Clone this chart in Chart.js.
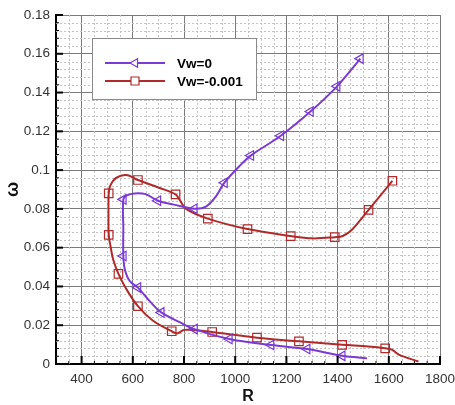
<!DOCTYPE html>
<html>
<head>
<meta charset="utf-8">
<script src="https://cdn.jsdelivr.net/npm/chart.js@4.4.1/dist/chart.umd.min.js"></script>
<style>
  html, body { margin: 0; padding: 0; background: #fff; }
</style>
</head>
<body>
<canvas id="chart" width="455" height="405"></canvas>
<script>
// Vw=0 curve (R, omega), top-right end first
const vw0R = [1489, 1398, 1294, 1178, 1061, 1016, 958, 925, 886, 840, 760, 698, 650, 607, 577, 563, 563, 563, 569, 588, 620, 666, 711, 783, 841, 977, 1140, 1281, 1418, 1515];
const vw0W = [0.1575, 0.1432, 0.1302, 0.1177, 0.1075, 0.1020, 0.0935, 0.0865, 0.0812, 0.0801, 0.0822, 0.0842, 0.0876, 0.0880, 0.0870, 0.0849, 0.0700, 0.0557, 0.0488, 0.0428, 0.0394, 0.0324, 0.0266, 0.0216, 0.0180, 0.0129, 0.0098, 0.0077, 0.0042, 0.0029];
const vw0Marks = [0, 1, 2, 3, 4, 6, 9, 11, 15, 17, 20, 22, 24, 25, 26, 27, 28];

// Vw=-0.001 curve
const vwmR = [1614, 1521, 1457, 1420, 1389, 1300, 1217, 1048, 893, 808, 782, 767, 705, 620, 575, 535, 512, 506, 505, 506, 513, 523, 544, 575, 620, 679, 752, 775, 800, 850, 910, 1085, 1249, 1418, 1520, 1586, 1612, 1641, 1716];
const vwmW = [0.0945, 0.0795, 0.0694, 0.0660, 0.0654, 0.0648, 0.0660, 0.0696, 0.0750, 0.0800, 0.0849, 0.0875, 0.0908, 0.0949, 0.0975, 0.0960, 0.0920, 0.0880, 0.0770, 0.0666, 0.0608, 0.0540, 0.0465, 0.0386, 0.0298, 0.0223, 0.0169, 0.0158, 0.0176, 0.0174, 0.0165, 0.0136, 0.0117, 0.0099, 0.0090, 0.0081, 0.0074, 0.0047, 0.0013];
const vwmMarks = [0, 1, 4, 6, 7, 8, 11, 13, 17, 19, 22, 24, 26, 30, 31, 32, 33, 35];

const xTicks = [400, 600, 800, 1000, 1200, 1400, 1600, 1800];
const yTicks = [0, 0.02, 0.04, 0.06, 0.08, 0.1, 0.12, 0.14, 0.16, 0.18];

const purple = "#7a3ad4";
const red = "#b02a2a";
const font = "'Liberation Sans', Arial, sans-serif";

function toPoints(xs, ys) {
  return xs.map((x, i) => ({ x: x, y: ys[i] }));
}

// dotted minor grid under the curves
const minorGrid = {
  id: "minorGrid",
  beforeDatasetsDraw(chart) {
    const { ctx, chartArea: a, scales: { x, y } } = chart;
    ctx.save();
    ctx.strokeStyle = "#c2c2c2";
    ctx.lineWidth = 1;
    ctx.setLineDash([2, 2]);
    ctx.beginPath();
    for (let v = 350; v < 1800; v += 50) {
      if (v % 200 === 0) continue;
      const px = Math.round(x.getPixelForValue(v)) + 0.5;
      ctx.moveTo(px, a.top);
      ctx.lineTo(px, a.bottom);
    }
    for (let i = 1; i < 45; i++) {
      if (i % 5 === 0) continue;
      const py = Math.round(y.getPixelForValue(i * 0.004)) + 0.5;
      ctx.moveTo(a.left, py);
      ctx.lineTo(a.right, py);
    }
    ctx.stroke();
    ctx.restore();
  },
};

// inward tick marks and the legend box
const frameAndLegend = {
  id: "frameAndLegend",
  afterDraw(chart) {
    const { ctx, chartArea: a, scales: { x, y } } = chart;
    ctx.save();
    ctx.strokeStyle = "#000";
    for (let v = 350; v <= 1800; v += 50) {
      const major = v % 200 === 0;
      const px = x.getPixelForValue(v);
      ctx.lineWidth = major ? 2 : 1;
      ctx.beginPath();
      ctx.moveTo(px, a.bottom);
      ctx.lineTo(px, a.bottom - (major ? 8 : 3));
      ctx.stroke();
    }
    for (let i = 1; i <= 45; i++) {
      const major = i % 5 === 0;
      const py = y.getPixelForValue(i * 0.004);
      ctx.lineWidth = major ? 2 : 1;
      ctx.beginPath();
      ctx.moveTo(a.left, py);
      ctx.lineTo(a.left + (major ? 7 : 3), py);
      ctx.stroke();
    }

    // legend
    ctx.setLineDash([]);
    ctx.fillStyle = "#fff";
    ctx.fillRect(92, 38, 165, 62);
    ctx.strokeStyle = "#8a8a8a";
    ctx.lineWidth = 1;
    ctx.strokeRect(92.5, 38.5, 164, 61);

    const rows = [
      { label: "Vw=0", color: purple, y: 63, mark: "tri" },
      { label: "Vw=-0.001", color: red, y: 81, mark: "sq" },
    ];
    rows.forEach((r) => {
      ctx.strokeStyle = r.color;
      ctx.lineWidth = 2;
      ctx.beginPath();
      ctx.moveTo(105, r.y);
      ctx.lineTo(165, r.y);
      ctx.stroke();
      ctx.lineWidth = 1.2;
      ctx.fillStyle = "#fff";
      ctx.beginPath();
      if (r.mark === "tri") {
        ctx.moveTo(130, r.y);
        ctx.lineTo(137.5, r.y - 4.3);
        ctx.lineTo(137.5, r.y + 4.3);
        ctx.closePath();
      } else {
        ctx.rect(131, r.y - 4, 8, 8);
      }
      ctx.fill();
      ctx.stroke();
      ctx.fillStyle = "#000";
      ctx.font = "bold 13.5px " + font;
      ctx.textBaseline = "middle";
      ctx.fillText(r.label, 177, r.y + 1);
    });
    ctx.restore();
  },
};

new Chart(document.getElementById("chart"), {
  type: "line",
  data: {
    datasets: [
      {
        label: "Vw=0",
        data: toPoints(vw0R, vw0W),
        borderColor: purple,
        borderWidth: 2,
        tension: 0.35,
        pointStyle: "triangle",
        rotation: -90,
        pointRadius: (c) => (vw0Marks.includes(c.dataIndex) ? 5.5 : 0),
        pointBorderColor: purple,
        pointBackgroundColor: "rgba(255,255,255,0)",
        pointBorderWidth: 1.2,
      },
      {
        label: "Vw=-0.001",
        data: toPoints(vwmR, vwmW),
        borderColor: red,
        borderWidth: 2,
        tension: 0.35,
        pointStyle: "rect",
        pointRadius: (c) => (vwmMarks.includes(c.dataIndex) ? 6 : 0),
        pointBorderColor: red,
        pointBackgroundColor: "rgba(255,255,255,0)",
        pointBorderWidth: 1.2,
      },
    ],
  },
  options: {
    responsive: false,
    animation: false,
    devicePixelRatio: 1,
    layout: { padding: { top: 15, right: 15, left: 0, bottom: 0 } },
    plugins: { legend: { display: false }, tooltip: { enabled: false } },
    scales: {
      x: {
        type: "linear",
        min: 300,
        max: 1800,
        afterBuildTicks: (s) => {
          s.ticks = xTicks.map((v) => ({ value: v }));
        },
        afterFit: (s) => {
          s.height = 41;
          s.paddingLeft = 0;
          s.paddingRight = 0;
        },
        grid: { color: "#7a7a7a", lineWidth: 1, drawTicks: false },
        border: { color: "#000", width: 2 },
        ticks: {
          autoSkip: false,
          maxRotation: 0,
          padding: 7,
          color: "#333",
          font: { family: font, size: 13.5 },
          callback: (v) => String(v),
        },
        title: {
          display: true,
          text: "R",
          color: "#111",
          padding: 0,
          font: { family: font, size: 16, weight: "bold", lineHeight: 1 },
        },
      },
      y: {
        type: "linear",
        min: 0,
        max: 0.18,
        afterBuildTicks: (s) => {
          s.ticks = yTicks.map((v) => ({ value: v }));
        },
        afterFit: (s) => {
          s.width = 56;
        },
        grid: { color: "#7a7a7a", lineWidth: 1, drawTicks: false },
        border: { color: "#000", width: 2 },
        ticks: {
          autoSkip: false,
          padding: 6,
          color: "#333",
          font: { family: font, size: 13.5 },
          callback: (v) => String(+v.toFixed(2)),
        },
        title: {
          display: true,
          text: "ω",
          color: "#111",
          padding: { top: 4, bottom: 0 },
          font: { family: font, size: 18, weight: "bold", lineHeight: 1 },
        },
      },
    },
  },
  plugins: [minorGrid, frameAndLegend],
});
</script>
</body>
</html>
